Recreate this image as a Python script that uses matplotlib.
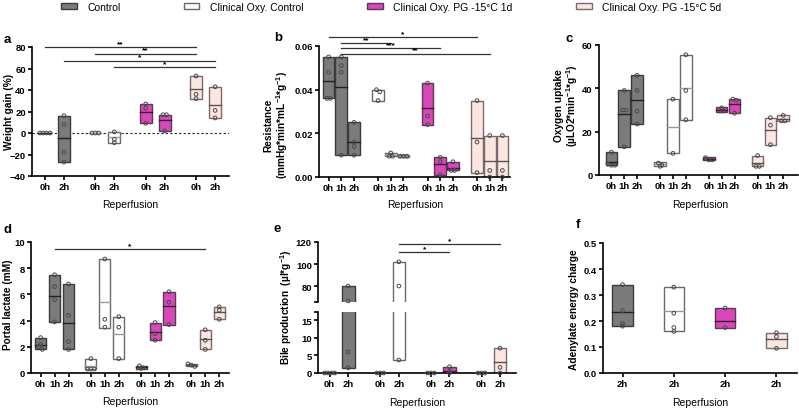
import numpy as np
import matplotlib
matplotlib.use('Agg')
import matplotlib.pyplot as plt
from matplotlib.patches import Patch

plt.rcParams['font.family'] = ['Liberation Sans', 'DejaVu Sans']
plt.rcParams['mathtext.fontset'] = 'custom'
plt.rcParams['mathtext.rm'] = 'Liberation Sans'
plt.rcParams['mathtext.bf'] = 'Liberation Sans:bold'
plt.rcParams['mathtext.default'] = 'bf'

W, H = 799, 410

# groups / styles
groups = ['Control', 'Clinical Oxy. Control', 'Clinical Oxy. PG -15°C 1d', 'Clinical Oxy. PG -15°C 5d']
face = ['#7b7b7b', '#ffffff', '#d848b8', '#fce6e2']
edge = ['#3c3c3c', '#6a6a6a', '#5a3a55', '#7a6a6a']
med_col = ['#222222', '#9a9a9a', '#3a1a35', '#555555']
nan = np.nan

# ---- panel a : weight gain
a_times = ['0h', '2h']
a_lo  = [0, -27, 0, -9, 9, 2, 32, 14]
a_med = [0, -5, 0, -4, 19.5, 12, 40.5, 26]
a_hi  = [0, 16, 0, 1, 27, 17, 53, 43]
a_pts = [[0, 0, 0, 0], [16, 8, -18, -27], [0, 0, 0], [1, -6, -9],
         [27, 23, 9], [17, 17, 2], [53, 36, 32], [43, 21, 14]]
a_sig = [(0, 6, 80, '**'), (2, 6, 73.8, '**'), (1, 7, 67.3, '*'), (3, 7, 61.1, '*')]

# ---- panel b : resistance
b_times = ['0h', '1h', '2h']
b_lo  = [0.036, 0.010, 0.010, 0.035, 0.0095, 0.009, 0.024, 0.001, 0.003, 0.002, 0.0, 0.0]
b_med = [0.044, 0.041, 0.016, nan, 0.010, 0.0095, 0.0318, 0.0058, 0.0042, 0.018, 0.0075, 0.0075]
b_hi  = [0.055, 0.055, 0.025, 0.040, 0.011, 0.010, 0.043, 0.009, 0.007, 0.035, 0.019, 0.019]
b_pts = [[0.055, 0.048, 0.036, 0.036], [0.055, 0.051, 0.048, 0.010], [0.025, 0.016, 0.014, 0.010],
         [0.040, 0.039, 0.035], [0.011, 0.0095, 0.0095], [0.0095, 0.0095, 0.0095],
         [0.043, 0.028, 0.024], [0.009, 0.007, 0.001], [0.007, 0.003, 0.003],
         [0.035, 0.016, 0.002], [0.019, 0.003, 0.0], [0.019, 0.003, 0.0]]
b_sig = [(0, 9, 0.0641, '*'), (1, 4, 0.0612, '**'), (1, 7, 0.0591, '***'), (1, 10, 0.0565, '**')]

# ---- panel c : oxygen uptake
c_times = ['0h', '1h', '2h']
c_lo  = [4.5, 13, 23.5, 4, 10, 25.5, 7, 29, 28.5, 4, 14, 25]
c_med = [6, 28, 34.5, 5, 22, 40, 7.5, 30, 33, 5.5, 21, 26]
c_hi  = [10.5, 39, 46, 6, 35, 55.5, 8.5, 31.5, 35, 9, 26.5, 27.5]
c_pts = [[10.5, 5, 4.5, 4.5], [39, 30, 30, 13], [46, 39, 29.5, 23.5],
         [5.5, 4.5, 4], [35, 10], [55.5, 39, 25.5],
         [8, 7, 7], [31, 29.5, 29.5], [35, 34.5, 28.5],
         [9, 4, 4], [26.5, 23, 14], [27.5, 25, 25]]

# ---- panel d : portal lactate
d_times = ['0h', '1h', '2h']
d_lo  = [1.8, 3.9, 1.8, 0.3, 3.4, 1.1, 0.3, 2.5, 3.7, 0.5, 1.8, 4.1]
d_med = [2.1, 5.9, 3.85, 0.55, 5.4, 3.0, 0.45, 3.1, 5.1, 0.6, 2.6, 4.65]
d_hi  = [2.7, 7.5, 6.8, 1.1, 8.7, 4.3, 0.55, 3.85, 6.2, 0.7, 3.3, 5.05]
d_pts = [[2.7, 2.2, 2.0, 1.8], [7.5, 6.6, 5.6, 3.9], [6.8, 4.4, 2.4, 1.8],
         [1.1, 0.3, 0.3, 0.3], [8.7, 4.1, 3.5], [4.3, 3.5, 1.1],
         [0.55, 0.4, 0.35], [3.85, 3.0, 2.5], [6.2, 5.4, 3.7],
         [0.7, 0.6, 0.5], [3.3, 2.5, 1.8], [5.05, 4.8, 4.1]]
d_sig = [(1, 10, 9.44, '*')]

# ---- panel e : bile production (broken axis)
e_times = ['0h', '2h']
e_lo  = [0, 1.5, 0, 3.7, 0, 0.3, 0, 0]
e_med = [nan, nan, nan, nan, nan, 0.6, nan, 3.0]
e_hi  = [0, 80, 0, 102, 0, 1.6, 0, 7.1]
e_pts = [[0, 0, 0, 0], [80, 66.5, 6, 1.5], [0, 0, 0], [102, 80, 3.7],
         [0, 0, 0], [1.8, 0.5, 0], [0, 0, 0], [7.1, 1.6, 0]]
e_sig = [(3, 5, 110.9, '*'), (3, 7, 117.9, '*')]

# ---- panel f : adenylate energy charge
f_times = ['2h']
f_lo  = [0.18, 0.16, 0.175, 0.095]
f_med = [0.235, 0.24, 0.2, 0.13]
f_hi  = [0.34, 0.33, 0.25, 0.155]
f_pts = [[0.34, 0.24, 0.19, 0.18], [0.33, 0.23, 0.16], [0.25, 0.175, 0.175], [0.155, 0.14, 0.095]]


fig = plt.figure(figsize=(W / 100, H / 100), dpi=100)


def px_axes(l, t, r, b):
    return fig.add_axes([l / W, 1 - b / H, (r - l) / W, (b - t) / H])


def style(ax):
    for s in ['top', 'right']:
        ax.spines[s].set_visible(False)
    for s in ['left', 'bottom']:
        ax.spines[s].set_linewidth(1.2)
    ax.tick_params(direction='out', length=3, width=1.2, labelsize=6.8, pad=1.5)
    for lab in ax.get_xticklabels() + ax.get_yticklabels():
        lab.set_fontweight('bold')


def positions(ntime, gstep):
    return [g * gstep + k for g in range(4) for k in range(ntime)]


def draw(ax, lo, med, hi, pts, ntime, gstep, width, ppu, ylim):
    pos = positions(ntime, gstep)
    yspan = ylim[1] - ylim[0]
    for i, x in enumerate(pos):
        g = i // ntime
        ax.bar(x, hi[i] - lo[i], bottom=lo[i], width=width, color=face[g],
               edgecolor=edge[g], linewidth=1.0, zorder=2)
        if not np.isnan(med[i]) and ylim[0] <= med[i] <= ylim[1]:
            ax.plot([x - width / 2, x + width / 2], [med[i], med[i]], color=med_col[g], lw=1.0, zorder=3)
        # spread dots with almost equal values sideways
        v = np.array(pts[i], dtype=float)
        xs = np.full(len(v), x)
        tol = yspan * 0.02
        used = np.zeros(len(v), bool)
        for j in range(len(v)):
            if used[j]:
                continue
            idx = [k for k in range(len(v)) if not used[k] and abs(v[k] - v[j]) < tol]
            for n, k in enumerate(idx):
                xs[k] = x + (n - (len(idx) - 1) / 2) * 3.4 / ppu
                used[k] = True
        keep = (v >= ylim[0] - 1e-9) & (v <= ylim[1])
        if keep.any():
            ax.scatter(xs[keep], v[keep], s=7, facecolors='none', edgecolors='#4a4a4a',
                       linewidths=0.7, zorder=4, clip_on=False)
    return pos


def sig(ax, pos, sigs, size=6):
    for i1, i2, y, s in sigs:
        ax.plot([pos[i1], pos[i2]], [y, y], color='#333333', lw=0.9, clip_on=False, zorder=1)
        ax.text((pos[i1] + pos[i2]) / 2, y, s, ha='center', va='bottom', fontsize=size,
                fontweight='bold', clip_on=False)


def figtext(x, y, s, **kw):
    fig.text(x / W, 1 - y / H, s, **kw)


# ---------------- a
ax = px_axes(32, 48, 229, 177)
pos = draw(ax, a_lo, a_med, a_hi, a_pts, 2, 2.65, 0.63, 19, (-40, 80))
ax.axhline(0, color='#222222', lw=0.8, ls=(0, (2, 2)), zorder=1)
ax.set_xlim(-0.68, 9.68)
ax.set_ylim(-40, 80)
ax.set_yticks([-40, -20, 0, 20, 40, 60, 80])
ax.set_xticks(pos, a_times * 4)
sig(ax, pos, a_sig)
style(ax)

# ---------------- b
ax = px_axes(319, 47, 510, 178)
pos = draw(ax, b_lo, b_med, b_hi, b_pts, 3, 3.9, 0.92, 12.7, (0, 0.06))
ax.set_xlim(-0.76, 14.3)
ax.set_ylim(0, 0.06)
ax.set_yticks([0, 0.02, 0.04, 0.06], ['0.00', '0.02', '0.04', '0.06'])
ax.set_xticks(pos, b_times * 4)
sig(ax, pos, b_sig)
style(ax)

# ---------------- c
ax = px_axes(599, 46, 798, 176)
pos = draw(ax, c_lo, c_med, c_hi, c_pts, 3, 3.8, 0.9, 12.8, (0, 60))
ax.set_xlim(-0.97, 14.55)
ax.set_ylim(0, 60)
ax.set_yticks([0, 20, 40, 60])
ax.set_xticks(pos, c_times * 4)
style(ax)

# ---------------- d
ax = px_axes(31, 243, 229, 374)
pos = draw(ax, d_lo, d_med, d_hi, d_pts, 3, 3.6, 0.79, 14, (0, 10))
ax.set_xlim(-0.69, 13.5)
ax.set_ylim(0, 10)
ax.set_yticks([0, 2, 4, 6, 8, 10])
ax.set_xticks(pos, d_times * 4)
sig(ax, pos, d_sig)
style(ax)

# ---------------- e (broken y axis)
axu = px_axes(318, 243, 516, 303)
axl = px_axes(318, 313, 516, 374)
for axx, yl in [(axu, (65.5, 120)), (axl, (0, 17.4))]:
    pos = draw(axx, e_lo, e_med, e_hi, e_pts, 2, 2.73, 0.68, 18.5, yl)
    axx.set_xlim(-0.63, 10.05)
    axx.set_ylim(*yl)
axu.set_yticks([65.5, 80, 100, 120], ['', '80', '100', '120'])
axl.set_yticks([0, 5, 10, 15, 17.4], ['0', '5', '10', '15', ''])
axl.set_xticks(pos, e_times * 4)
sig(axu, pos, e_sig)
style(axu)
style(axl)
axu.spines['bottom'].set_visible(False)
axu.tick_params(axis='x', bottom=False, labelbottom=False)

# ---------------- f
ax = px_axes(603, 244, 797, 374)
pos = draw(ax, f_lo, f_med, f_hi, f_pts, 1, 1, 0.4, 51.2, (0, 0.5))
ax.set_xlim(-0.38, 3.4)
ax.set_ylim(0, 0.5)
ax.set_yticks([0, 0.1, 0.2, 0.3, 0.4, 0.5])
ax.set_xticks(pos, f_times * 4)
style(ax)

# ---------------- labels
lab = dict(fontsize=7.3, fontweight='bold', rotation=90, ha='center', va='center')
figtext(9, 112, 'Weight gain (%)', **lab)
figtext(277, 125, 'Resistance\n(mmHg*min*mL$^{-1}$*g$^{-1}$)', linespacing=1.1, **lab)
figtext(567, 106, 'Oxygen uptake\n(µLO2*min$^{-1}$*g$^{-1}$)', linespacing=1.1, **lab)
figtext(8, 305, 'Portal lactate (mM)', **lab)
figtext(286, 307, 'Bile production  (µl*g$^{-1}$)', **lab)
figtext(574, 310, 'Adenylate energy charge', **lab)

xl = dict(fontsize=7.5, ha='center', va='center')
figtext(130, 205, 'Reperfusion', **xl)
figtext(415, 205, 'Reperfusion', **xl)
figtext(700, 205, 'Reperfusion', **xl)
figtext(130, 402, 'Reperfusion', **xl)
figtext(417, 403, 'Reperfusion', **xl)
figtext(700, 403, 'Reperfusion', **xl)

pl = dict(fontsize=9.5, fontweight='bold', ha='left', va='center')
for letter, x, y in [('a', 4, 40), ('b', 274, 38), ('c', 566, 39),
                     ('d', 4, 230), ('e', 274, 229), ('f', 576, 225)]:
    figtext(x, y, letter, **pl)

# ---------------- legend
handles = [Patch(facecolor=face[g], edgecolor=edge[g], linewidth=1.0) for g in range(4)]
fig.legend(handles, groups, loc='center left', bbox_to_anchor=(61 / W, 1 - 8 / H), ncol=4,
           frameon=False, fontsize=7.5, handlelength=1.5, handleheight=0.5,
           handletextpad=1.0, columnspacing=6.1, borderpad=0, borderaxespad=0)

fig.savefig('out.png', dpi=100)
